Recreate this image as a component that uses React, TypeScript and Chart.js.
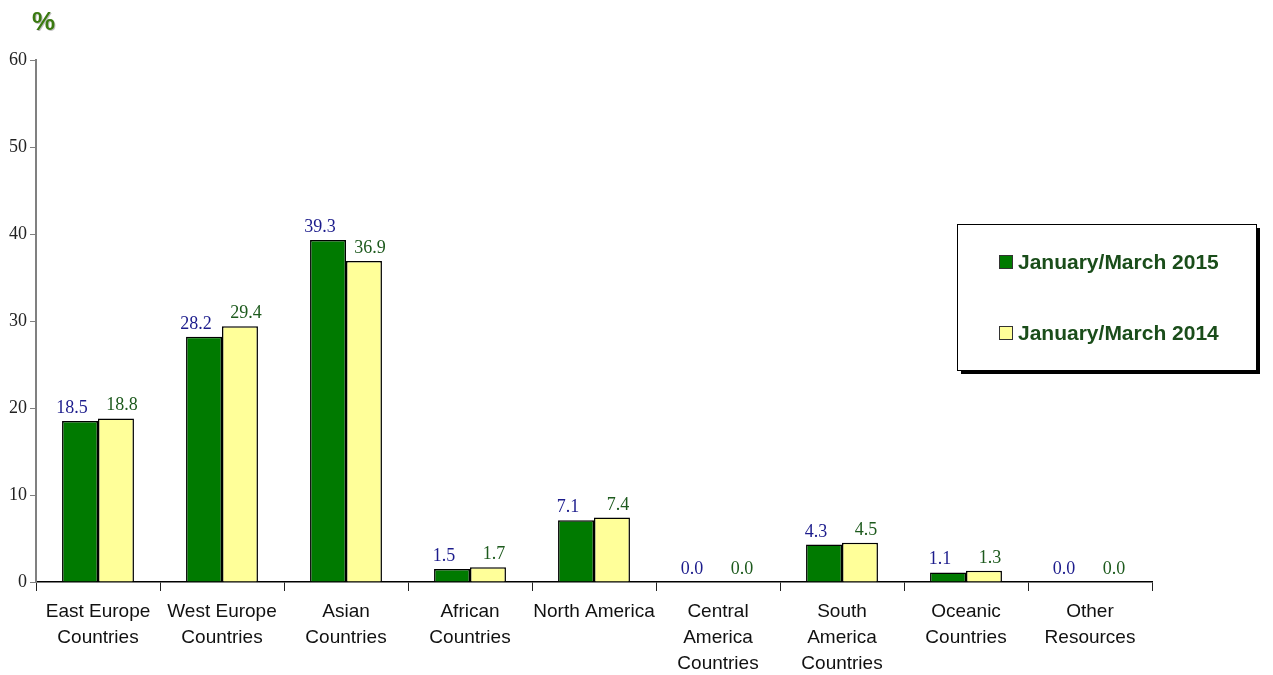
import React, { useEffect, useRef } from "react";
import { Chart, registerables } from "chart.js";

Chart.register(...registerables);

const categories: string[][] = [
  ["East Europe", "Countries"],
  ["West Europe", "Countries"],
  ["Asian", "Countries"],
  ["African", "Countries"],
  ["North America"],
  ["Central", "America", "Countries"],
  ["South", "America", "Countries"],
  ["Oceanic", "Countries"],
  ["Other", "Resources"],
];
const series2015: number[] = [18.5, 28.2, 39.3, 1.5, 7.1, 0.0, 4.3, 1.1, 0.0];
const series2014: number[] = [18.8, 29.4, 36.9, 1.7, 7.4, 0.0, 4.5, 1.3, 0.0];
const seriesLabels: string[] = ["January/March 2015", "January/March 2014"];
const yTicks: number[] = [0, 10, 20, 30, 40, 50, 60];

const GREEN = "#007a00";
const YELLOW = "#ffff99";
const LABEL_COLORS = ["#1c1c8c", "#1d5a1d"];
const LABEL_DX = [-8, 6];

const valueLabelPlugin = {
  id: "valueLabels",
  afterDatasetsDraw(chart: any) {
    const ctx = chart.ctx;
    ctx.save();
    ctx.font = '18px "Liberation Serif", serif';
    ctx.textAlign = "center";
    ctx.textBaseline = "alphabetic";
    chart.data.datasets.forEach((ds: any, di: number) => {
      const meta = chart.getDatasetMeta(di);
      meta.data.forEach((el: any, i: number) => {
        const v = ds.data[i] as number;
        ctx.fillStyle = LABEL_COLORS[di];
        ctx.fillText(v.toFixed(1), el.x + LABEL_DX[di], el.y - 8);
      });
    });
    ctx.restore();
  },
};

const decorPlugin = {
  id: "decor",
  afterDraw(chart: any) {
    const ctx = chart.ctx;
    ctx.save();
    // percent sign
    ctx.font = 'bold 26px "Liberation Sans", Arial, sans-serif';
    ctx.textAlign = "left";
    ctx.textBaseline = "alphabetic";
    ctx.fillStyle = "rgba(0,0,0,0.25)";
    ctx.fillText("%", 33, 31);
    ctx.fillStyle = "#3a7a10";
    ctx.fillText("%", 32, 30);

    // legend box
    const bx = 957, by = 224, bw = 299, bh = 146;
    ctx.fillStyle = "#000";
    ctx.fillRect(bx + 4, by + 4, bw, bh);
    ctx.fillStyle = "#fff";
    ctx.fillRect(bx, by, bw, bh);
    ctx.strokeStyle = "#000";
    ctx.lineWidth = 1;
    ctx.strokeRect(bx + 0.5, by + 0.5, bw, bh);

    const items = chart.data.datasets;
    const rowY = [262, 333];
    items.forEach((ds: any, i: number) => {
      const y = rowY[i];
      ctx.fillStyle = ds.backgroundColor;
      ctx.fillRect(999, y - 7, 14, 14);
      ctx.strokeStyle = "#333";
      ctx.lineWidth = 1;
      ctx.strokeRect(999.5, y - 6.5, 13, 13);
      ctx.fillStyle = "#1a4d1a";
      ctx.font = 'bold 21px "Liberation Sans", Arial, sans-serif';
      ctx.textBaseline = "middle";
      ctx.fillText(ds.label, 1018, y + 1);
    });
    ctx.restore();
  },
};

export default function App() {
  const ref = useRef<HTMLCanvasElement | null>(null);
  useEffect(() => {
    if (!ref.current) return;
    const chart = new Chart(ref.current, {
      type: "bar",
      data: {
        labels: categories as any,
        datasets: [
          {
            label: seriesLabels[0],
            data: series2015,
            backgroundColor: GREEN,
            borderColor: "#000",
            borderWidth: 1.5,
            categoryPercentage: 0.58,
            barPercentage: 1.0,
          },
          {
            label: seriesLabels[1],
            data: series2014,
            backgroundColor: YELLOW,
            borderColor: "#000",
            borderWidth: 1.5,
            categoryPercentage: 0.58,
            barPercentage: 1.0,
          },
        ],
      },
      options: {
        animation: false,
        responsive: true,
        maintainAspectRatio: false,
        layout: { padding: { top: 60, right: 121, left: 0, bottom: 0 } },
        plugins: {
          legend: { display: false },
          tooltip: { enabled: false },
        },
        scales: {
          x: {
            grid: {
              display: true,
              drawOnChartArea: false,
              drawTicks: true,
              tickLength: 9,
              color: "#222",
              offset: true,
            },
            border: { display: true, color: "#000", width: 1.5 },
            ticks: {
              color: "#111",
              font: { family: '"Liberation Sans", Arial, sans-serif', size: 19, lineHeight: 1.37 },
              padding: 8,
              maxRotation: 0,
              autoSkip: false,
            },
            afterFit: (scale: any) => {
              scale.height = 93;
            },
          },
          y: {
            min: 0,
            max: 60,
            afterBuildTicks: (scale: any) => {
              scale.ticks = yTicks.map((v) => ({ value: v }));
            },
            grid: {
              display: true,
              drawOnChartArea: false,
              drawTicks: true,
              tickLength: 6,
              color: "#808080",
            },
            border: { display: true, color: "#808080", width: 2 },
            ticks: {
              color: "#222",
              font: { family: '"Liberation Serif", serif', size: 18 },
              padding: 3,
            },
            afterFit: (scale: any) => {
              scale.width = 36;
            },
          },
        },
      },
      plugins: [valueLabelPlugin, decorPlugin],
    });
    return () => chart.destroy();
  }, []);
  return (
    <div style={{ position: "absolute", left: 0, top: 0, width: 1273, height: 675, background: "#fff" }}>
      <canvas ref={ref} />
    </div>
  );
}
